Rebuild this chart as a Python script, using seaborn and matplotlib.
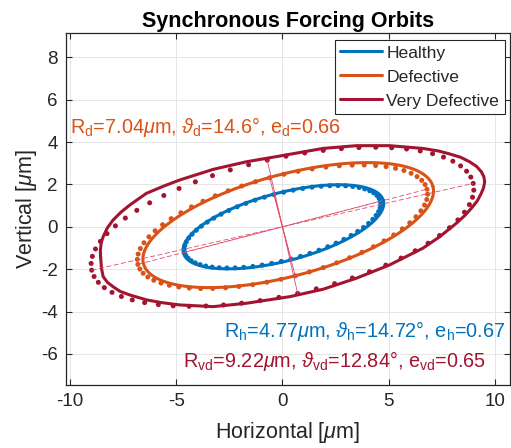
import numpy as np
import matplotlib
matplotlib.use('Agg')
import matplotlib.pyplot as plt
import seaborn as sns
import pandas as pd

# ---------------- data ----------------
labels = ['Healthy', 'Defective', 'Very Defective']
subs = ['h', 'd', 'vd']
colors = ['#0072BD', '#D95319', '#A2142F']

# fitted ellipse parameters (from the annotations)
R_fit = [4.77, 7.04, 9.22]          # semi-major axis [um]
theta_fit = [14.72, 14.6, 12.84]     # tilt [deg]
e_fit = [0.67, 0.66, 0.65]           # flattening (1 - b/a)
n_fit_pts = 64

orbit_cx = [0.045, 0.27]
orbit_cy = [0.0, 0.08]
orbit_a = [4.87, 7.06]
orbit_theta = [14.72, 15.0]
orbit_e = [0.67, 0.66]

vd_x = [-8.57, -8.58, -8.54, -8.45, -8.25, -7.98, -7.60, -7.19, -6.41, -5.60, -4.84,
        -3.27, -1.70, -0.13, 1.91, 3.48, 5.05, 6.62, 7.35, 7.88, 8.40, 8.82, 9.15,
        9.37, 9.49, 9.53, 9.48, 9.37, 9.18, 8.90, 8.58, 8.20, 7.41, 6.62, 5.05,
        3.48, 1.91, 0.34, -1.70, -3.27, -4.84, -5.70, -6.41, -7.19, -7.65, -7.98,
        -8.25, -8.45, -8.53, -8.57]
vd_y = [-1.41, -1.10, -0.75, -0.47, -0.05, 0.32, 0.70, 1.03, 1.58, 1.92, 2.21,
        2.71, 3.07, 3.34, 3.70, 3.83, 3.83, 3.70, 3.58, 3.44, 3.28, 3.07, 2.85,
        2.60, 2.37, 2.13, 1.85, 1.58, 1.22, 0.87, 0.52, 0.17, -0.47, -1.01, -1.80,
        -2.43, -2.95, -3.30, -3.61, -3.77, -3.69, -3.58, -3.45, -3.22, -3.05, -2.83,
        -2.62, -2.35, -1.95, -1.41]

text_pos = {'d': (-10.0, 4.43, 'left'),
            'h': (10.52, -5.19, 'right'),
            'vd': (9.61, -6.6, 'right')}

x_ticks = [-10, -5, 0, 5, 10]
y_ticks = [-6, -4, -2, 0, 2, 4, 6, 8]
xlim = (-10.2, 10.7)
ylim = (-7.47, 9.15)

# ---------------- style ----------------
sns.set_theme(style='whitegrid')
plt.rcParams['font.family'] = ['Liberation Sans', 'DejaVu Sans']
plt.rcParams['mathtext.fontset'] = 'custom'
plt.rcParams['mathtext.rm'] = 'Liberation Sans'
plt.rcParams['mathtext.it'] = 'Liberation Sans:italic'
plt.rcParams['mathtext.bf'] = 'Liberation Sans:bold'
plt.rcParams['axes.unicode_minus'] = False

fig = plt.figure(figsize=(5.11, 4.48), dpi=100)
ax = fig.add_axes([66 / 511, 1 - 385 / 448, (509.5 - 66) / 511, (385 - 33) / 448])
ax.set_facecolor('white')


def ellipse(cx, cy, a, th_deg, e, n):
    t = np.linspace(0, 2 * np.pi, n, endpoint=False)
    th = np.deg2rad(th_deg)
    b = a * (1 - e)
    x = cx + a * np.cos(th) * np.cos(t) - b * np.sin(th) * np.sin(t)
    y = cy + a * np.sin(th) * np.cos(t) + b * np.cos(th) * np.sin(t)
    return x, y


for i in range(3):
    if i < 2:
        ox, oy = ellipse(orbit_cx[i], orbit_cy[i], orbit_a[i], orbit_theta[i], orbit_e[i], 400)
        ox = np.append(ox, ox[0]); oy = np.append(oy, oy[0])
    else:
        ox, oy = np.array(vd_x), np.array(vd_y)
    df = pd.DataFrame({'x': ox, 'y': oy})
    sns.lineplot(data=df, x='x', y='y', sort=False, estimator=None, ax=ax,
                 color=colors[i], lw=2.2, label=labels[i], zorder=3)
    ax.lines[-1].set_solid_joinstyle('round')
    fx, fy = ellipse(0, 0, R_fit[i], theta_fit[i], e_fit[i], n_fit_pts)
    sns.scatterplot(x=fx, y=fy, ax=ax, color=colors[i], s=13, edgecolor='none',
                    legend=False, zorder=4)

# principal axes of fitted ellipses
for i in range(3):
    th = np.deg2rad(theta_fit[i])
    a = R_fit[i]
    b = a * (1 - e_fit[i])
    ax.plot([-a * np.cos(th), a * np.cos(th)], [-a * np.sin(th), a * np.sin(th)],
            ls=(0, (6, 3)), color='#E04A66', lw=0.6, zorder=5)
    ax.plot([b * np.sin(th), -b * np.sin(th)], [-b * np.cos(th), b * np.cos(th)],
            ls='-', color='#E04A66', lw=0.6, zorder=5)

# annotations
for i, s in enumerate(subs):
    txt = (r'R$_\mathregular{%s}$=%.2f$\mu$m, $\vartheta_\mathregular{%s}$=%s°, '
           r'e$_\mathregular{%s}$=%.2f') % (s, R_fit[i], s, ('%g' % theta_fit[i]), s, e_fit[i])
    x0, y0, ha = text_pos[s]
    ax.text(x0, y0, txt, color=colors[i], fontsize=14.3, ha=ha, va='baseline', zorder=6)

ax.set_xlim(*xlim)
ax.set_ylim(*ylim)
ax.set_xticks(x_ticks)
ax.set_yticks(y_ticks)
ax.grid(True, color='#E6E6E6', lw=0.7)
for sp in ax.spines.values():
    sp.set_visible(True)
    sp.set_color('#262626')
    sp.set_linewidth(0.9)
ax.tick_params(direction='in', length=4, width=0.8, colors='#262626',
               labelsize=13.5, top=True, right=True, bottom=True, left=True, pad=6)
ax.set_xlabel('Horizontal [$\\mu$m]', fontsize=15.5, color='#262626', labelpad=7)
ax.set_ylabel('Vertical [$\\mu$m]', fontsize=15.5, color='#262626', labelpad=1)
ax.set_title('Synchronous Forcing Orbits', fontsize=15.5, fontweight='bold',
             color='black', pad=4)

leg = ax.legend(loc='upper right', bbox_to_anchor=(0.989, 0.980), borderaxespad=0,
                fontsize=12.6, frameon=True, fancybox=False, framealpha=1,
                edgecolor='#262626', handlelength=2.4, handletextpad=0.25,
                labelspacing=0.5, borderpad=0.3)
leg.get_frame().set_linewidth(0.8)
for lh in leg.get_lines():
    lh.set_linewidth(2.2)

fig.savefig('out.png', dpi=100)
